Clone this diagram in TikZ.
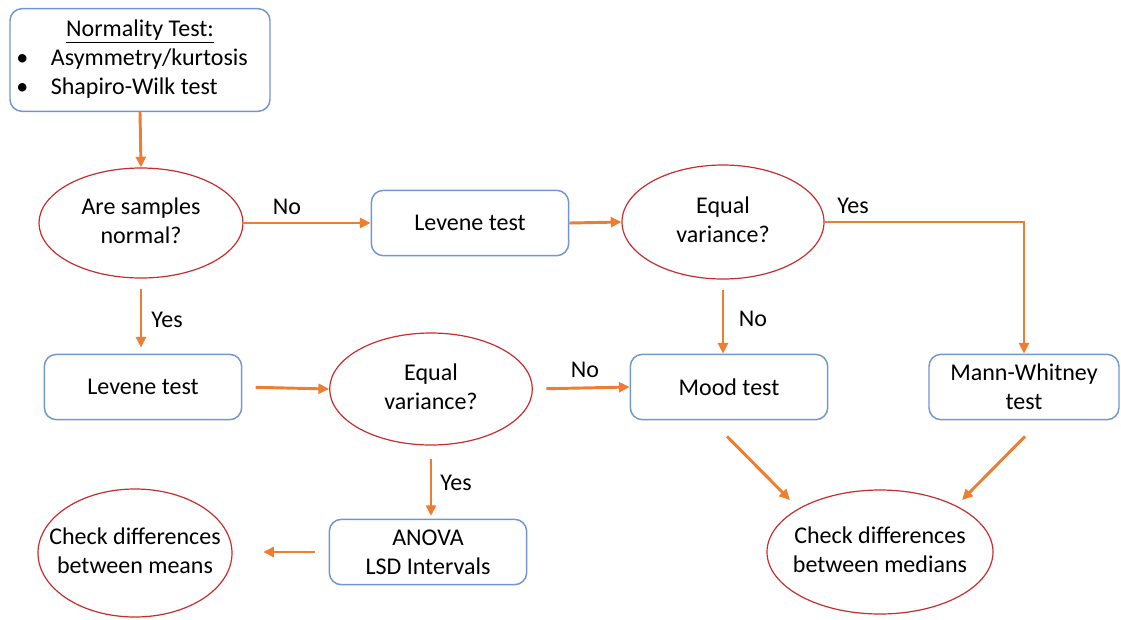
\documentclass[tikz,border=0pt]{standalone}
\usepackage{fontspec}
\setmainfont{Carlito}
\usetikzlibrary{shapes.geometric,arrows.meta}
\definecolor{boxblue}{RGB}{114,149,212}
\definecolor{ovalred}{RGB}{200,45,45}
\definecolor{arrorange}{RGB}{237,125,49}
% text of an oval, kept out of the oval's size
\newcommand{\ovaltext}[1]{\smash{\makebox[0pt]{\raisebox{-0.25em}{\begin{tabular}{@{}c@{}}#1\end{tabular}}}}}
\tikzset{
  testbox/.style={draw=boxblue,line width=1.1pt,rounded corners=9pt,align=center,
    minimum width=148pt,minimum height=49pt,inner sep=0pt},
  question/.style={draw=ovalred,line width=0.9pt,ellipse,inner sep=0pt},
  flow/.style={draw=arrorange,line width=2.2pt,-{Triangle[length=8pt,width=7.5pt]}},
  answer/.style={inner sep=0pt}
}
\begin{document}
\begin{tikzpicture}[x=0.75pt,y=-0.75pt,font=\fontsize{18}{21.75}\selectfont]
\useasboundingbox (0,0) rectangle (1121,619);
% nodes
\node[testbox,minimum width=195pt,minimum height=77pt] (norm) at (140,60)
  {\begin{tabular}{@{}l@{\hspace{17pt}}l@{\hspace{12pt}}}
   \multicolumn{2}{@{}c@{}}{\underline{Normality Test:}}\\
   \textbullet & Asymmetry/kurtosis\\
   \textbullet & Shapiro-Wilk test
   \end{tabular}};
\node[question,minimum width=153pt,minimum height=82.5pt] (samples) at (141,223) {\ovaltext{Are samples\\normal?}};
\node[testbox] (lev1) at (470,223) {Levene test};
\node[question,minimum width=151.5pt,minimum height=85.5pt] (var1) at (723,222) {\ovaltext{Equal\\variance?}};
\node[testbox] (lev2) at (143,387) {Levene test};
\node[question,minimum width=152pt,minimum height=84pt] (var2) at (431,389) {\ovaltext{Equal\\variance?}};
\node[testbox] (mood) at (729,387) {Mood test};
\node[testbox,minimum width=142.5pt] (mw) at (1024,387) {Mann-Whitney\\test};
\node[testbox] (anova) at (428,552) {ANOVA\\LSD Intervals};
\node[question,minimum width=145.5pt,minimum height=96pt] (means) at (135,553) {\ovaltext{Check differences\\between means}};
\node[question,minimum width=169.5pt,minimum height=93pt] (medians) at (880,552) {\ovaltext{Check differences\\between medians}};
% answers
\node[answer] (no1) at (287,207) {No};
\node[answer] (yes1) at (853,206) {Yes};
\node[answer] (no2) at (753,319) {No};
\node[answer] (yes2) at (167,320) {Yes};
\node[answer] (no3) at (585,370) {No};
\node[answer] (yes3) at (456,483) {Yes};
% arrows
\draw[flow] (norm.south) -- (samples.north);
\draw[flow] (samples.east) -- (lev1.west);
\draw[flow] (lev1.east) -- (var1.west);
\draw[flow] (var1.east) -| (mw.north);
\draw[flow,shorten <=8pt] (var1.south) -- (var1.south |- mood.north);
\draw[flow,shorten <=8pt,shorten >=4.5pt] (samples.south) -- (samples.south |- lev2.north);
\draw[flow,shorten <=10pt] (lev2.east) -- (var2.west);
\draw[flow,shorten <=10pt] (var2.east) -- (mood.west);
\draw[flow,shorten <=10pt,shorten >=2pt] (var2.south) -- (var2.south |- anova.north);
\draw[flow,shorten <=10.5pt,shorten >=23pt] (anova.west) -- (anova.west -| means.east);
\draw[flow] ([xshift=-1.5pt,yshift=-12pt]mood.south) -- ([xshift=-67.5pt,yshift=39pt]medians.center);
\draw[flow] ([xshift=0.75pt,yshift=-12pt]mw.south) -- ([xshift=61.5pt,yshift=39pt]medians.center);
\end{tikzpicture}
\end{document}
